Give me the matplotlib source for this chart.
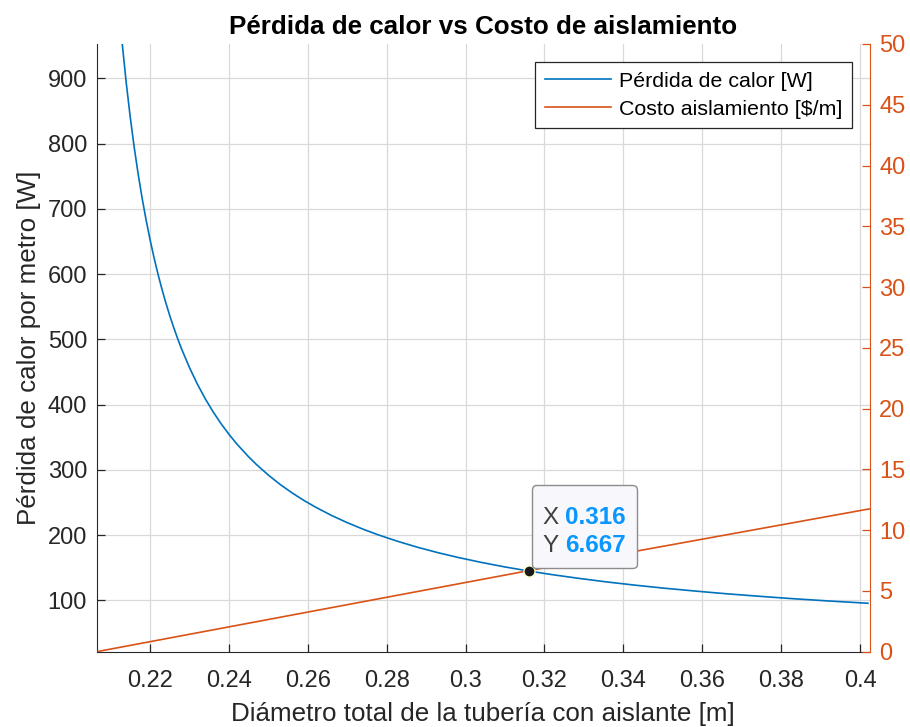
import numpy as np
import matplotlib
matplotlib.use('Agg')
import matplotlib.pyplot as plt
from matplotlib.offsetbox import TextArea, HPacker, VPacker, DrawingArea, AnnotationBbox

plt.rcParams['font.family'] = ['Liberation Sans', 'DejaVu Sans']

# diameter [m] vs heat loss per metre [W]
diam_q = [0.212, 0.213, 0.214, 0.215, 0.216, 0.217, 0.218, 0.219, 0.220, 0.221,
          0.222, 0.223, 0.224, 0.225, 0.226, 0.227, 0.228, 0.230, 0.232, 0.234,
          0.236, 0.238, 0.240, 0.242, 0.245, 0.247, 0.250, 0.253, 0.256, 0.259,
          0.262, 0.266, 0.270, 0.274, 0.278, 0.283, 0.288, 0.293, 0.298, 0.304,
          0.310, 0.316, 0.322, 0.329, 0.336, 0.343, 0.350, 0.358, 0.366, 0.374,
          0.382, 0.392, 0.402]
heat_loss = [1018, 950.6, 891.8, 840.1, 794.2, 753.3, 716.5, 683.3, 653.2, 625.7,
             600.6, 577.5, 556.2, 536.5, 518.3, 501.3, 485.4, 456.8, 431.5, 409.0,
             389.0, 370.9, 354.6, 339.8, 320.0, 308.1, 292.0, 277.6, 264.8, 253.2,
             242.8, 230.2, 219.1, 209.1, 200.1, 190.1, 181.1, 173.1, 165.9, 158.2,
             151.2, 145.0, 139.4, 133.5, 128.1, 123.3, 118.9, 114.4, 110.2, 106.5,
             103.0, 99.1, 95.6]

# insulation cost [$/m]
diam_c = [0.2065, 0.316, 0.4024]
cost = [0.0, 6.667, 11.75]

tip_x, tip_y = 0.316, 6.667

blue = '#0072BD'
orange = '#D95319'
dark = '#262626'

fig = plt.figure(figsize=(9.1, 7.27), dpi=100)
ax = fig.add_axes([0.1063, 0.1036, 0.8492, 0.8359])
ax2 = ax.twinx()

l1, = ax.plot(diam_q, heat_loss, color=blue, lw=1.2)
l2, = ax2.plot(diam_c, cost, color=orange, lw=1.2)

ax.set_xlim(0.2065, 0.4024)
ax.set_ylim(21.4, 952.5)
ax2.set_ylim(0, 50)

xt = np.arange(0.22, 0.401, 0.02)
ax.set_xticks(xt)
ax.set_xticklabels(['%g' % round(v, 2) for v in xt])
ax.set_yticks(np.arange(100, 901, 100))
ax2.set_yticks(np.arange(0, 51, 5))

ax.grid(True, color='#d9d9d9', lw=0.9)
ax.set_axisbelow(True)

for a in (ax, ax2):
    a.spines['top'].set_visible(False)
ax.spines['left'].set_color(dark)
ax.spines['bottom'].set_color(dark)
ax.spines['right'].set_visible(False)
ax2.spines['left'].set_visible(False)
ax2.spines['bottom'].set_visible(False)
ax2.spines['right'].set_color(orange)

ax.tick_params(axis='both', direction='in', length=6, width=0.9, colors=dark,
               labelsize=17, labelcolor=dark, top=False, right=False)
ax.tick_params(axis='x', pad=13.5)
ax.tick_params(axis='y', pad=7)
ax2.tick_params(axis='y', direction='in', length=6, width=0.9, colors=orange,
                labelsize=17, labelcolor=orange, pad=7)

ax.set_xlabel('Diámetro total de la tubería con aislante [m]', fontsize=18.7,
              color=dark, labelpad=7)
ax.set_ylabel('Pérdida de calor por metro [W]', fontsize=18.7, color=dark, labelpad=5)
ax.set_title('Pérdida de calor vs Costo de aislamiento', fontsize=18.7,
             fontweight='bold', color='black', pad=7)

leg = ax2.legend([l1, l2], ['Pérdida de calor [W]', 'Costo aislamiento [$/m]'],
                 loc='upper right', bbox_to_anchor=(0.977, 0.970), fontsize=15.4,
                 fancybox=False, framealpha=1, edgecolor=dark, handlelength=3.1,
                 borderpad=0.45, labelspacing=0.42, handletextpad=0.35, borderaxespad=0)
leg.get_frame().set_linewidth(0.9)

# data tip
ax2.plot([tip_x], [tip_y], 'o', ms=8, mfc='#1a1a1a', mec='#ffffcc', mew=1.0, zorder=5)
num = dict(color='#0a96ff', fontsize=17.5, fontweight='bold')
lab = dict(color='#404040', fontsize=17.5)
row1 = HPacker(children=[TextArea('X', textprops=lab),
                         TextArea('%.3f' % tip_x, textprops=num)],
               pad=0, sep=4, align='baseline')
row2 = HPacker(children=[TextArea('Y', textprops=lab),
                         TextArea('%.3f' % tip_y, textprops=num)],
               pad=0, sep=4, align='baseline')
box = VPacker(children=[DrawingArea(1, 2.5), row1, row2], pad=0, sep=4, align='left')
ab = AnnotationBbox(box, (tip_x, tip_y), xybox=(10.2, 9.7), boxcoords='offset points',
                    box_alignment=(0, 0), frameon=True, pad=0.8,
                    bboxprops=dict(boxstyle='round,pad=0.8,rounding_size=0.3',
                                   fc='#f8f8fc', ec='#8c8c8c', lw=1.0))
ab.set_zorder(6)
ax2.add_artist(ab)

fig.savefig('out.png', dpi=100)
